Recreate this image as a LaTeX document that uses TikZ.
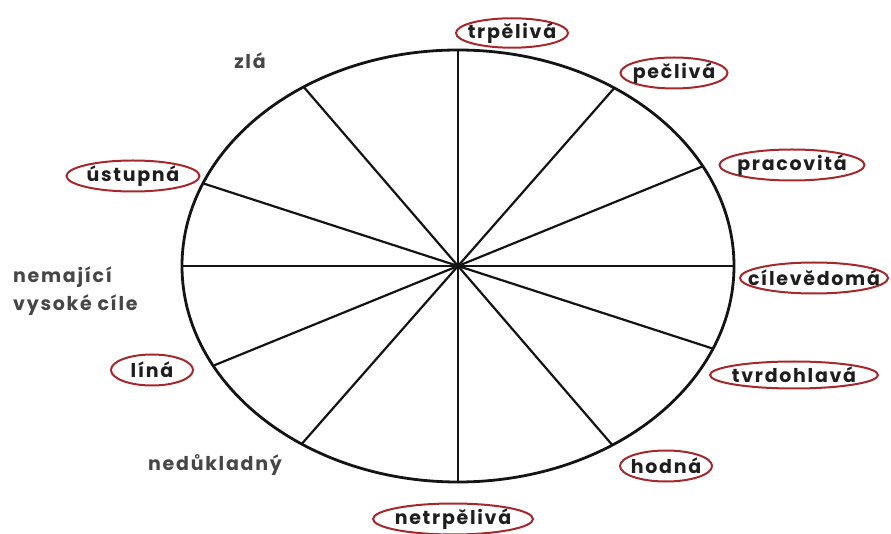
\documentclass[tikz,border=0pt]{standalone}
\usepackage{fontspec}
\setmainfont{Poppins}[LetterSpace=9]
\usepackage{tikz}
\usetikzlibrary{shapes.geometric, calc}
\definecolor{rimline}{RGB}{20,20,20}
\definecolor{tagline}{RGB}{165,40,45}
\definecolor{tagtext}{RGB}{30,30,30}
\definecolor{softtext}{RGB}{70,70,70}
\tikzset{
  rim/.style={draw=rimline, line width=2.8pt},
  spoke/.style={draw=rimline, line width=2.2pt},
  tag/.style={
    ellipse, draw=tagline, line width=2pt,
    text=tagtext, font=\bfseries\fontsize{19}{21}\selectfont,
    inner xsep=-30pt, inner ysep=0pt, minimum height=31pt
  },
  plainlabel/.style={
    text=softtext, font=\bfseries\fontsize{19}{28}\selectfont,
    align=left, inner sep=0pt
  }
}

\begin{document}
\begin{tikzpicture}[x=1pt, y=1pt]
  \useasboundingbox (0,0) rectangle (891,533);
  \coordinate (c) at (458,267);

  \draw[rim] (c) ellipse [x radius=276pt, y radius=216pt];
  \draw[spoke] ($(c)+(90:276 and 216)$)    -- ($(c)+(270:276 and 216)$);
  \draw[spoke] ($(c)+(0:276 and 216)$)     -- ($(c)+(180:276 and 216)$);
  \draw[spoke] ($(c)+(55.5:276 and 216)$)  -- ($(c)+(235.5:276 and 216)$);
  \draw[spoke] ($(c)+(27.5:276 and 216)$)  -- ($(c)+(207.5:276 and 216)$);
  \draw[spoke] ($(c)+(-22.5:276 and 216)$) -- ($(c)+(157.5:276 and 216)$);
  \draw[spoke] ($(c)+(-56:276 and 216)$)   -- ($(c)+(124:276 and 216)$);

  \node[tag, minimum width=112pt, minimum height=26pt] (trp) at (512,500) {trpělivá};
  \node[tag, minimum width=107pt] (pec)  at (674,460) {pečlivá};
  \node[tag, minimum width=145pt] (pra)  at (792,368) {pracovitá};
  \node[tag, minimum width=148pt] (cil)  at (814,255) {cílevědomá};
  \node[tag, minimum width=168pt, minimum height=27pt] (tvr) at (794,158) {tvrdohlavá};
  \node[tag, minimum width=92pt]  (hod)  at (666,67)  {hodná};
  \node[tag, minimum width=160pt] (ntrp) at (453,14)  {netrpělivá};
  \node[tag, minimum width=133pt] (ust)  at (133,357) {ústupná};
  \node[tag, minimum width=82pt]  (lin)  at (152,163) {líná};

  \node[plainlabel] (zla) at (250,472) {zlá};
  \node[plainlabel, anchor=west] (nem) at (13,242) {nemající\\vysoké cíle};
  \node[plainlabel] (ned) at (215,68) {nedůkladný};
\end{tikzpicture}
\end{document}
